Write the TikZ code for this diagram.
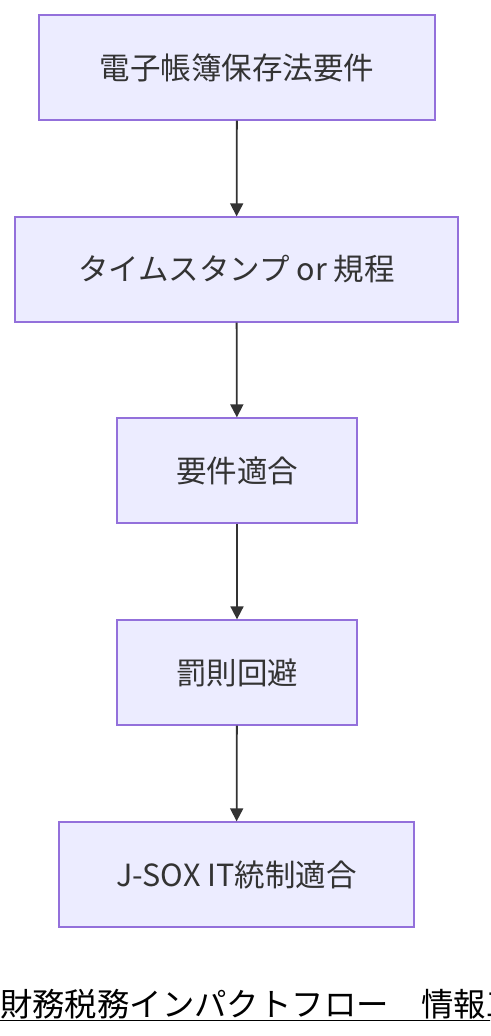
\documentclass[tikz,border=0pt]{standalone}
\usepackage{fontspec}
\setmainfont{Noto Sans CJK JP}
\newfontfamily\jpfont{Noto Sans CJK JP}
\usetikzlibrary{arrows.meta}
\definecolor{boxfill}{HTML}{ECECFF}
\definecolor{boxline}{HTML}{9370DB}
\definecolor{ink}{HTML}{333333}
\tikzset{
  flowbox/.style={draw=boxline, fill=boxfill, line width=1.3pt, minimum height=105pt, inner sep=0pt, text=ink, font=\jpfont\fontsize{30.5}{36}\selectfont},
  flowarrow/.style={draw=ink, line width=1.8pt, -{Triangle[length=13pt,width=13pt]}}
}
\begin{document}
\begin{tikzpicture}[x=1pt,y=-1pt]
\useasboundingbox (0,0) rectangle (490,1036);
\clip (0,0) rectangle (490,1036);
\fill[white] (0,0) rectangle (490,1036);
\node[flowbox, minimum width=396pt] (a) at (237,67.5) {電子帳簿保存法要件};
\node[flowbox, minimum width=443pt] (b) at (236.5,269.5) {タイムスタンプ or 規程};
\node[flowbox, minimum width=240pt] (c) at (237,470.5) {要件適合};
\node[flowbox, minimum width=240pt] (d) at (237,672.5) {罰則回避};
\node[flowbox, minimum width=355pt] (e) at (236.5,874.5) {J-SOX IT統制適合};
\draw[flowarrow] (a) -- (b);
\draw[flowarrow] (b) -- (c);
\draw[flowarrow] (c) -- (d);
\draw[flowarrow] (d) -- (e);
\node[anchor=base west, inner sep=0pt, text=black, font=\jpfont\fontsize{32.4}{38}\selectfont] (title) at (0,1016) {財務税務インパクトフロー　情報工};
\draw[black, line width=1.5pt] ([yshift=-4.5pt]title.base west) -- ([yshift=-4.5pt]title.base east);
\end{tikzpicture}
\end{document}
